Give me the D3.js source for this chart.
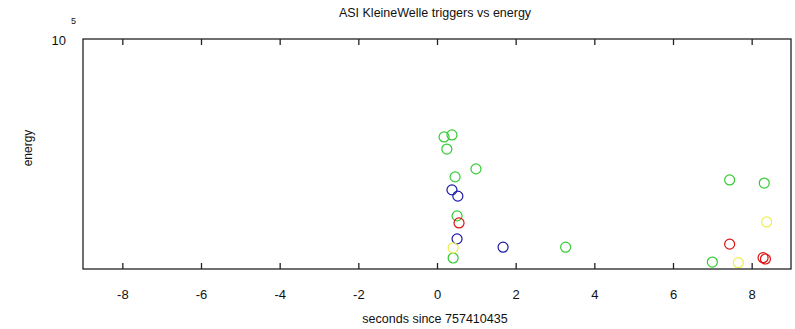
<!DOCTYPE html>
<html><head><meta charset="utf-8">
<script src="https://cdn.jsdelivr.net/npm/d3@7"></script>
<style>body{margin:0;background:#fff}svg{display:block}text{font-family:"Liberation Sans",Arial,sans-serif;fill:#111}</style>
</head><body>
<script>
const xTicks = [-8,-6,-4,-2,0,2,4,6,8];
const greenX = [0.18,0.38,0.25,0.99,0.46,0.51,0.41,3.27,7.0,7.44,8.32];
const greenY = [50400,51100,46300,40300,38100,29000,21600,23300,21000,37300,36500];
const blueX = [0.38,0.53,0.51,1.68];
const blueY = [34800,33300,24700,23300];
const redX = [0.56,7.44,8.35,8.29];
const redY = [27600,23800,21450,21650];
const yellowX = [0.41,7.66,8.38];
const yellowY = [23200,20900,27800];
const series = [
  {name:"green", color:"#33cc33", xs:greenX, ys:greenY},
  {name:"blue", color:"#1a1aaa", xs:blueX, ys:blueY},
  {name:"red", color:"#dd1111", xs:redX, ys:redY},
  {name:"yellow", color:"#eeee55", xs:yellowX, ys:yellowY}
];

const W=795,H=329, L=83, R=791, T=39, B=269;
const svg=d3.select("body").append("svg").attr("width",W).attr("height",H);
const x=d3.scaleLinear().domain([-9,9]).range([L,R]);
const y=d3.scaleLog().domain([20000,100000]).range([B,T]);

// points
series.forEach(s=>{
  svg.append("g").selectAll("circle").data(s.xs.map((v,i)=>[v,s.ys[i]])).join("circle")
    .attr("cx",d=>x(d[0])).attr("cy",d=>y(d[1])).attr("r",5)
    .attr("fill","none").attr("stroke",s.color).attr("stroke-width",1.2);
});

// box
svg.append("rect").attr("x",L).attr("y",T).attr("width",R-L).attr("height",B-T)
  .attr("fill","none").attr("stroke","#222").attr("stroke-width",1.3);

// bottom axis
const xb=svg.append("g").attr("transform",`translate(0,${B})`)
  .call(d3.axisBottom(x).tickValues(xTicks).tickSize(-6).tickPadding(21).tickFormat(d=>String(d)));
xb.select(".domain").remove();
xb.selectAll("line").attr("stroke","#222").attr("stroke-width",1.3);
xb.selectAll("text").attr("font-size",13).style("font-family","'Liberation Sans',Arial,sans-serif").attr("fill","#111");
// top ticks
const xt=svg.append("g").attr("transform",`translate(0,${T})`)
  .call(d3.axisTop(x).tickValues(xTicks).tickSize(-6).tickFormat(""));
xt.select(".domain").remove();
xt.selectAll("line").attr("stroke","#222").attr("stroke-width",1.3);

// y label 10^5
svg.append("text").attr("x",L-17).attr("y",y(100000)+6).attr("text-anchor","end").attr("font-size",13).text("10");
svg.append("text").attr("x",L-12).attr("y",y(100000)-15).attr("font-size",9).text("5");

svg.append("text").attr("x",(L+R)/2-2).attr("y",17).attr("text-anchor","middle").attr("font-size",12.5)
  .text("ASI KleineWelle triggers vs energy");
svg.append("text").attr("x",(L+R)/2-2).attr("y",323).attr("text-anchor","middle").attr("font-size",12.5)
  .text("seconds since 757410435");
svg.append("text").attr("transform",`translate(32,${(T+B)/2-6}) rotate(-90)`).attr("text-anchor","middle").attr("font-size",12)
  .text("energy");
</script>
</body></html>
